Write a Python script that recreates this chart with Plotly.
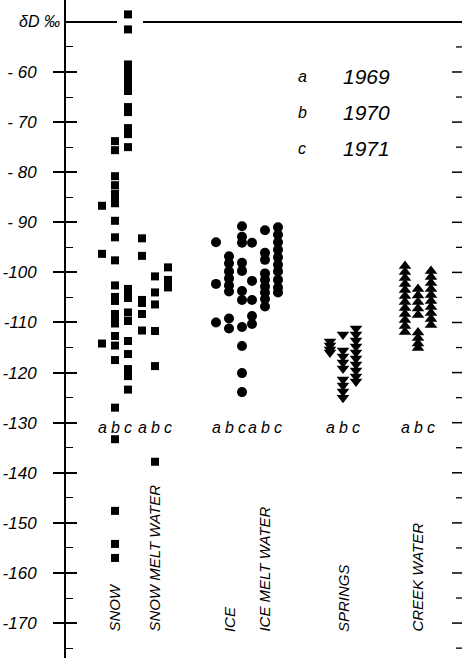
import plotly.graph_objects as go

# ---------------- data ----------------
CATEGORIES = ["SNOW", "SNOW MELT WATER", "ICE", "ICE MELT WATER", "SPRINGS", "CREEK WATER"]
YEARS = ["a", "b", "c"]
YEAR_LABELS = ["1969", "1970", "1971"]

SNOW_A = [-86.7, -96.3, -114.2]
SNOW_B = [-73.8, -75.6, -80.8, -82.6, -84.3, -85.3, -86.2, -89.7, -93.0, -97.6,
          -102.6, -104.9, -105.7, -108.3, -109.0, -109.6, -110.2, -112.7, -114.6,
          -117.5, -127.0, -133.3, -147.6, -154.2, -157.0]
SNOW_C = [-48.5, -51.5, -58.5, -59.5, -60.5, -61.7, -62.5, -63.8, -67.0, -68.0,
          -71.2, -72.4, -75.0, -103.3, -103.9, -105.1, -108.0, -109.7, -113.7,
          -116.3, -119.3, -120.7, -123.4]
SNOWMELT_A = [-93.2, -96.7, -105.5, -106.1, -108.3, -111.6]
SNOWMELT_B = [-100.8, -104.0, -106.4, -111.7, -118.7, -137.8]
SNOWMELT_C = [-99.0, -101.5, -103.0]
ICE_A = [-94.0, -102.3, -110.0]
ICE_B = [-96.8, -98.2, -99.8, -101.2, -102.6, -103.8, -109.2, -111.2]
ICE_C = [-90.8, -92.9, -94.1, -98.1, -99.7, -103.7, -105.5, -110.9, -114.7, -120.1, -123.9]
ICEMELT_A = [-94.1, -101.7, -105.5, -108.7, -110.3]
ICEMELT_B = [-91.6, -96.1, -97.5, -100.2, -101.5, -102.8, -104.0, -105.3, -106.8]
ICEMELT_C = [-91.0, -92.5, -94.0, -95.5, -97.0, -98.5, -99.8, -101.5, -103.0, -104.0]
SPRINGS_A = [-113.8, -114.6, -115.4, -116.0]
SPRINGS_B = [-112.4, -115.6, -116.8, -118.0, -119.2, -121.4, -122.6, -123.8, -125.0]
SPRINGS_C = [-111.2, -112.4, -113.6, -114.8, -116.0, -117.2, -118.4, -119.6, -120.8, -121.8]
CREEK_A = [-98.7, -99.9, -101.1, -102.3, -103.5, -104.7, -105.9, -107.1, -108.3,
           -109.5, -110.7, -111.9]
CREEK_B = [-103.3, -104.6, -105.9, -107.2, -108.5, -112.0, -113.1, -114.2, -115.1]
CREEK_C = [-99.7, -100.9, -102.1, -103.3, -104.5, -105.7, -106.9, -108.1, -109.3, -110.5]

SERIES = [
    [SNOW_A, SNOW_B, SNOW_C],
    [SNOWMELT_A, SNOWMELT_B, SNOWMELT_C],
    [ICE_A, ICE_B, ICE_C],
    [ICEMELT_A, ICEMELT_B, ICEMELT_C],
    [SPRINGS_A, SPRINGS_B, SPRINGS_C],
    [CREEK_A, CREEK_B, CREEK_C],
]

MAJOR_TICKS = [-60, -70, -80, -90, -100, -110, -120, -130, -140, -150, -160, -170]
MAJOR_LABELS = ["- 60", "- 70", "- 80", "- 90", "-100", "-110", "-120", "-130",
                "-140", "-150", "-160", "-170"]
MINOR_TICKS = [-55, -65, -75, -85, -95, -105, -115, -125, -135, -145, -155, -165, -175]

# ---------------- layout / style ----------------
GROUP_X = [49, 89, 163, 199, 277, 352]
YEAR_DX = [-13, 0, 13]
SYMBOLS = ["square", "square", "circle", "circle", "triangle-down", "triangle-up"]
SIZES = [8, 8, 10, 10, 11, 11]
# which overlaid y axis carries each group (all share the same range)
GROUP_AXIS = ["y", "y", "y", "y", "y2", "y2"]
X_RANGE = [0, 396]
Y_RANGE = [-176.97, -45.63]
FRAME_TOP = -50
RIGHT_MAJOR_LEN = 10   # x units (= px) of the right-hand ticks
RIGHT_MINOR_LEN = 6
FONT = "Liberation Sans"

fig = go.Figure()
for g, cat in enumerate(CATEGORIES):
    for i, yr in enumerate(YEARS):
        vals = SERIES[g][i]
        fig.add_trace(go.Scatter(
            x=[GROUP_X[g] + YEAR_DX[i]] * len(vals), y=vals, mode="markers",
            yaxis=GROUP_AXIS[g],
            marker=dict(symbol=SYMBOLS[g], size=SIZES[g], color="black",
                        line=dict(width=0)),
            name=f"{cat} {yr}", showlegend=False, hoverinfo="y"))

annotations = []
# a b c labels under each group
for g in range(len(CATEGORIES)):
    for i, yr in enumerate(YEARS):
        annotations.append(dict(
            x=GROUP_X[g] + YEAR_DX[i], y=-130.9, xref="x", yref="y", text=yr,
            showarrow=False, xanchor="center", yanchor="middle",
            font=dict(family=FONT, size=16, color="black", style="italic")))
# rotated category names
for g, cat in enumerate(CATEGORIES):
    annotations.append(dict(
        x=GROUP_X[g], y=-172.2, xref="x", yref="y", text=cat, textangle=-90,
        showarrow=False, xanchor="center", yanchor="bottom",
        font=dict(family=FONT, size=15, color="black", style="italic")))
# year key
for i, (yr, lab) in enumerate(zip(YEARS, YEAR_LABELS)):
    yy = -60.8 - 7.2 * i
    annotations.append(dict(
        x=236, y=yy, xref="x", yref="y", text=yr, showarrow=False,
        xanchor="center", yanchor="middle",
        font=dict(family=FONT, size=16, color="black", style="italic")))
    annotations.append(dict(
        x=300, y=yy, xref="x", yref="y", text=lab, showarrow=False,
        xanchor="center", yanchor="middle",
        font=dict(family=FONT, size=21, color="black", style="italic")))
# axis title
annotations.append(dict(
    x=0, y=FRAME_TOP, xref="paper", yref="y", text="δD ‰", showarrow=False,
    xanchor="right", yanchor="middle", xshift=-4,
    font=dict(family=FONT, size=16, color="black", style="italic")))

shapes = [
    dict(type="line", xref="x", yref="y", x0=X_RANGE[0], x1=51, y0=FRAME_TOP, y1=FRAME_TOP,
         line=dict(color="black", width=2)),
    dict(type="line", xref="x", yref="y", x0=77, x1=X_RANGE[1], y0=FRAME_TOP, y1=FRAME_TOP,
         line=dict(color="black", width=2)),
]
# right-hand tick ruler, built from the tick value lists
for tv in MAJOR_TICKS:
    shapes.append(dict(type="line", xref="x", yref="y",
                       x0=X_RANGE[1] - RIGHT_MAJOR_LEN, x1=X_RANGE[1], y0=tv, y1=tv,
                       line=dict(color="black", width=1.5)))
for tv in MINOR_TICKS:
    shapes.append(dict(type="line", xref="x", yref="y",
                       x0=X_RANGE[1] - RIGHT_MINOR_LEN, x1=X_RANGE[1], y0=tv, y1=tv,
                       line=dict(color="black", width=1.3)))

fig.update_layout(
    width=462, height=658,
    margin=dict(l=66, r=0, t=0, b=0, pad=0, autoexpand=False),
    paper_bgcolor="white", plot_bgcolor="white",
    showlegend=False,
    annotations=annotations, shapes=shapes,
    xaxis=dict(range=X_RANGE, domain=[0, 1], showgrid=False, zeroline=False,
               showline=False, showticklabels=False, ticks="", fixedrange=True,
               automargin=False),
    yaxis=dict(range=Y_RANGE, tickmode="array", tickvals=MAJOR_TICKS,
               ticktext=MAJOR_LABELS, ticks="outside", ticklen=11, tickwidth=1.5,
               tickcolor="black", showline=True, linewidth=2, linecolor="black",
               showgrid=False, zeroline=False, ticklabelstandoff=13, automargin=False,
               tickfont=dict(family=FONT, size=17, color="black", style="italic"),
               minor=dict(tickmode="array", tickvals=MINOR_TICKS, ticks="inside",
                          ticklen=7, tickwidth=1.2, tickcolor="black", showgrid=False)),
    yaxis2=dict(range=Y_RANGE, overlaying="y", side="left", anchor="x",
                tickmode="array", tickvals=MAJOR_TICKS, ticks="inside", ticklen=11,
                tickwidth=1.5, tickcolor="black", showticklabels=False, automargin=False,
                showline=False, showgrid=False, zeroline=False),
)

fig.write_html(
    "out.html",
    config={"displayModeBar": False},
    post_script=(
        "document.documentElement.style.overflow='hidden';"
        "document.body.style.overflow='hidden';"
        "document.body.style.margin='0px';document.body.style.padding='0px';"
    ),
)
